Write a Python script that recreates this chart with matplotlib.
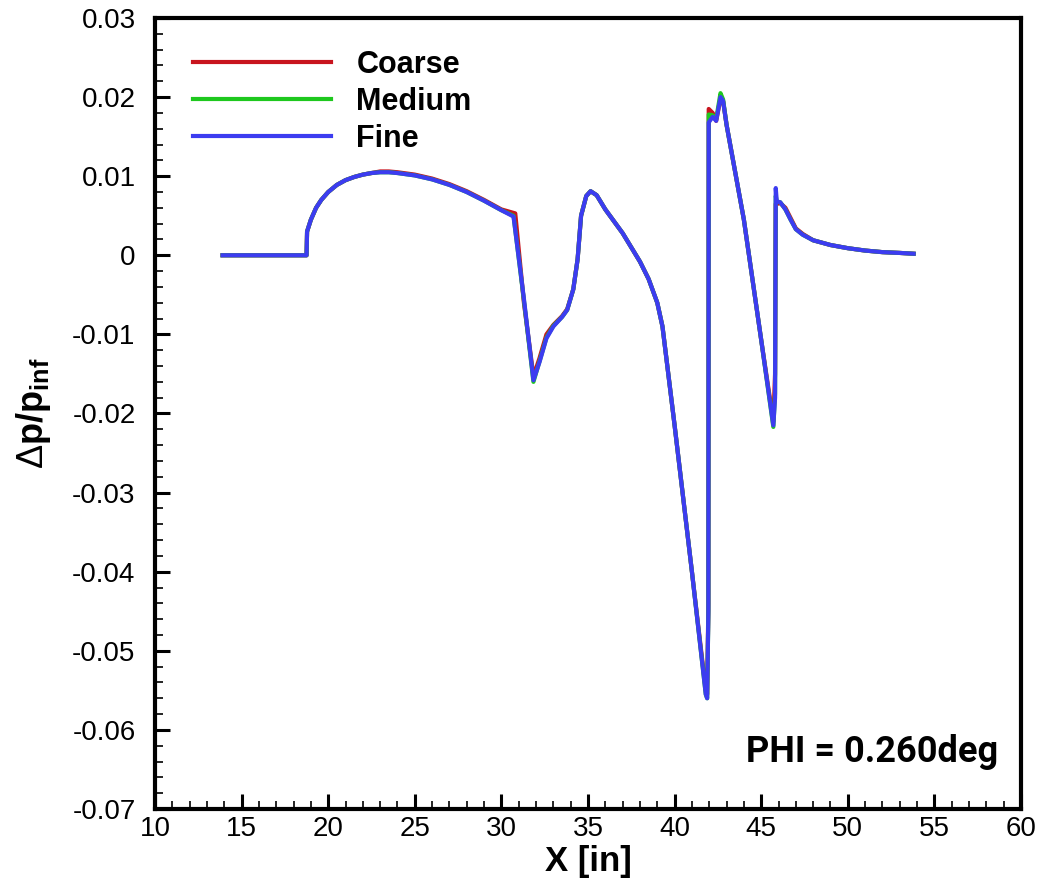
import matplotlib
matplotlib.use("Agg")
import matplotlib.pyplot as plt
from matplotlib.ticker import MultipleLocator, FixedLocator

# ---------------- data ----------------
x_fine = [13.9, 18.75, 18.78, 19.0, 19.3, 19.6, 20.0, 20.5, 21.0, 21.5, 22.0, 22.5,
          23.0, 23.5, 24.0, 25.0, 26.0, 27.0, 28.0, 29.0, 30.0, 30.7, 31.3, 31.85,
          32.2, 32.6, 33.0, 33.5, 33.8, 34.15, 34.4, 34.6, 34.9, 35.15, 35.5,
          36.0, 37.0, 38.0, 38.5, 39.0, 39.3, 40.0, 41.0, 41.8, 41.88, 41.95, 41.97,
          42.2, 42.4, 42.65, 42.8, 43.0, 44.0, 45.0, 45.7, 45.8, 45.84, 45.9, 46.1,
          46.4, 46.7, 47.0, 47.4, 48.0, 49.0, 50.0, 51.0, 52.0, 53.0, 53.8]
y_fine = [0.0, 0.0, 0.0030, 0.0045, 0.0060, 0.0070, 0.0080, 0.0089, 0.0095, 0.0099, 0.0102, 0.0104,
          0.0105, 0.0105, 0.0104, 0.0101, 0.0096, 0.0089, 0.0080, 0.0069, 0.0057, 0.0049, -0.0055, -0.0158,
          -0.0135, -0.0105, -0.0090, -0.0078, -0.0069, -0.0043, -0.0005, 0.0050, 0.0075, 0.0081, 0.0076,
          0.0058, 0.0028, -0.0008, -0.0030, -0.0060, -0.0090, -0.0215, -0.0400, -0.0555, -0.0560, -0.0450, 0.0168,
          0.0175, 0.0170, 0.0200, 0.0195, 0.0165, 0.0045, -0.0107, -0.0215, -0.0180, 0.0085, 0.0068, 0.0067,
          0.0058, 0.0045, 0.0033, 0.0026, 0.0019, 0.0013, 0.0009, 0.0006, 0.0004, 0.0003, 0.0002]

x_coarse = [13.9, 18.75, 18.78, 19.0, 19.3, 19.6, 20.0, 20.5, 21.0, 21.5, 22.0, 22.5,
            23.0, 23.5, 24.0, 25.0, 26.0, 27.0, 28.0, 29.0, 30.0, 30.8, 31.3, 31.85,
            32.2, 32.6, 33.0, 33.5, 33.8, 34.15, 34.4, 34.6, 34.9, 35.15, 35.5,
            36.0, 37.0, 38.0, 38.5, 39.0, 39.3, 40.0, 41.0, 41.8, 41.88, 41.95, 41.97,
            42.2, 42.4, 42.65, 42.8, 43.0, 44.0, 45.0, 45.7, 45.8, 45.84, 45.9, 46.1,
            46.4, 46.7, 47.0, 47.4, 48.0, 49.0, 50.0, 51.0, 52.0, 53.0, 53.8]
y_coarse = [0.0, 0.0, 0.0030, 0.0045, 0.0060, 0.0070, 0.0080, 0.0089, 0.0095, 0.0099, 0.0102, 0.0104,
            0.0106, 0.0106, 0.0105, 0.0102, 0.0097, 0.0090, 0.0081, 0.0070, 0.0058, 0.0053, -0.0060, -0.0153,
            -0.0130, -0.0100, -0.0088, -0.0077, -0.0068, -0.0043, -0.0005, 0.0050, 0.0075, 0.0081, 0.0076,
            0.0058, 0.0028, -0.0008, -0.0030, -0.0060, -0.0090, -0.0215, -0.0400, -0.0550, -0.0555, -0.0440, 0.0185,
            0.0180, 0.0170, 0.0198, 0.0195, 0.0165, 0.0045, -0.0107, -0.0210, -0.0150, 0.0065, 0.0065, 0.0066,
            0.0060, 0.0047, 0.0034, 0.0027, 0.0019, 0.0013, 0.0009, 0.0006, 0.0004, 0.0003, 0.0002]

x_medium = x_fine
y_medium = [0.0, 0.0, 0.0030, 0.0045, 0.0060, 0.0070, 0.0080, 0.0089, 0.0095, 0.0099, 0.0102, 0.0104,
            0.0105, 0.0105, 0.0104, 0.0101, 0.0096, 0.0089, 0.0080, 0.0069, 0.0057, 0.0050, -0.0057, -0.0160,
            -0.0134, -0.0104, -0.0089, -0.0078, -0.0069, -0.0043, -0.0005, 0.0050, 0.0075, 0.0081, 0.0076,
            0.0058, 0.0028, -0.0008, -0.0030, -0.0060, -0.0090, -0.0215, -0.0400, -0.0555, -0.0560, -0.0450, 0.0178,
            0.0177, 0.0172, 0.0205, 0.0197, 0.0165, 0.0045, -0.0107, -0.0217, -0.0175, 0.0075, 0.0068, 0.0067,
            0.0058, 0.0045, 0.0033, 0.0026, 0.0019, 0.0013, 0.0009, 0.0006, 0.0004, 0.0003, 0.0002]

series_names = ["Coarse", "Medium", "Fine"]
series_colors = ["#c8141e", "#1ec81e", "#3c3cf0"]

x_ticks = [10, 15, 20, 25, 30, 35, 40, 45, 50, 55, 60]
y_ticks = [-0.07, -0.06, -0.05, -0.04, -0.03, -0.02, -0.01, 0.0, 0.01, 0.02, 0.03]
y_tick_labels = ["-0.07", "-0.06", "-0.05", "-0.04", "-0.03", "-0.02", "-0.01", "0", "0.01", "0.02", "0.03"]
annotation = "PHI = 0.260deg"

# ---------------- style ----------------
plt.rcParams['font.family'] = ['Liberation Sans', 'DejaVu Sans']
plt.rcParams['mathtext.fontset'] = 'custom'
plt.rcParams['mathtext.rm'] = 'Liberation Sans'
plt.rcParams['mathtext.bf'] = 'Liberation Sans:bold'
plt.rcParams['mathtext.it'] = 'Liberation Sans:italic'

W, H = 1042, 885
fig = plt.figure(figsize=(W / 100, H / 100), dpi=100)
ax_left, ax_right, ax_top, ax_bottom = 155, 1021, 18, 809
ax = fig.add_axes([ax_left / W, 1 - ax_bottom / H, (ax_right - ax_left) / W, (ax_bottom - ax_top) / H])

lw = 3.0
for xs, ys, c, n in [(x_coarse, y_coarse, series_colors[0], series_names[0]),
                     (x_medium, y_medium, series_colors[1], series_names[1]),
                     (x_fine, y_fine, series_colors[2], series_names[2])]:
    ax.plot(xs, ys, color=c, lw=lw, label=n)

ax.set_xlim(10, 60)
ax.set_ylim(-0.07, 0.03)

ax.xaxis.set_major_locator(FixedLocator(x_ticks))
ax.xaxis.set_minor_locator(MultipleLocator(1))
ax.yaxis.set_major_locator(FixedLocator(y_ticks))
ax.set_yticklabels(y_tick_labels)
ax.yaxis.set_minor_locator(MultipleLocator(0.002))

ax.tick_params(which='major', direction='in', length=11, width=2.2, top=False, right=False, labelsize=20)
ax.tick_params(which='minor', direction='in', length=5.5, width=1.2, top=False, right=False)
ax.tick_params(axis='x', which='major', pad=5)
ax.tick_params(axis='y', which='major', pad=14)

for sp in ax.spines.values():
    sp.set_linewidth(3.0)

ax.set_xlabel("X [in]", fontsize=25, fontweight='bold')
ax.xaxis.set_label_coords(0.5, -0.045)
ax.set_ylabel(r"$\Delta\mathbf{p/p}_{\mathbf{inf}}$", fontsize=26)
ax.yaxis.set_label_coords(-0.118, 0.5)

fs_leg = 22
leg = ax.legend(loc='upper left', frameon=False,
                prop={'family': 'Liberation Sans', 'weight': 'bold', 'size': fs_leg},
                handlelength=4.5, handletextpad=0.85, labelspacing=0.23,
                borderpad=0, borderaxespad=0,
                bbox_to_anchor=(193 / W, 1 - 50 / H), bbox_transform=fig.transFigure)

ax.text(998 / W, 1 - 752 / H, annotation, transform=fig.transFigure, ha='right', va='center',
        fontsize=26, fontweight='bold', family='Roboto')

fig.savefig("out.png", dpi=100)
